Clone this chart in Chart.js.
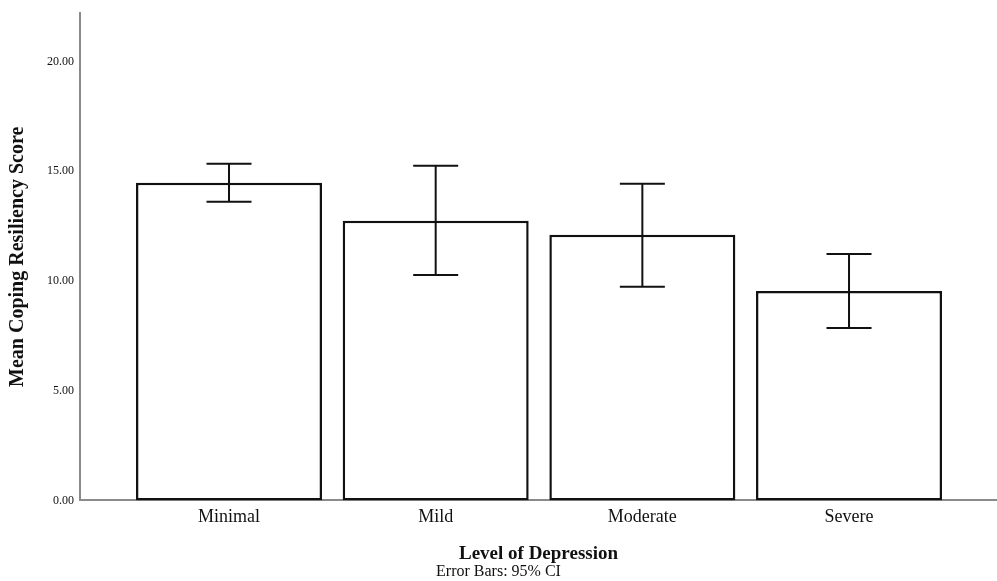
<!DOCTYPE html>
<html>
<head>
<meta charset="utf-8">
<script src="https://cdn.jsdelivr.net/npm/chart.js@4.4.1/dist/chart.umd.min.js"></script>
<style>
html,body{margin:0;padding:0;background:#fff;}
#wrap{width:997px;height:581px;position:relative;}
</style>
</head>
<body>
<div id="wrap"><canvas id="c" width="997" height="581"></canvas></div>
<script>
const categories = ["Minimal", "Mild", "Moderate", "Severe"];
const means = [14.47, 12.74, 12.10, 9.54];
const ciLower = [13.61, 10.27, 9.73, 7.85];
const ciUpper = [15.34, 15.25, 14.43, 11.23];
const yTicks = [0, 5, 10, 15, 20];

const errorBarPlugin = {
  id: 'errorBars',
  afterDatasetsDraw(chart) {
    const ctx = chart.ctx;
    const xs = chart.scales.x, ys = chart.scales.y;
    ctx.save();
    ctx.strokeStyle = '#111';
    ctx.lineWidth = 2;
    for (let i = 0; i < means.length; i++) {
      const x = xs.getPixelForValue(i);
      const yl = ys.getPixelForValue(ciLower[i]);
      const yu = ys.getPixelForValue(ciUpper[i]);
      const half = 22.5;
      ctx.beginPath();
      ctx.moveTo(x, yu); ctx.lineTo(x, yl);
      ctx.moveTo(x - half, yu); ctx.lineTo(x + half, yu);
      ctx.moveTo(x - half, yl); ctx.lineTo(x + half, yl);
      ctx.stroke();
    }
    ctx.restore();
  }
};

new Chart(document.getElementById('c'), {
  type: 'bar',
  data: {
    datasets: [{
      data: means.map((v, i) => ({x: i, y: v})),
      backgroundColor: '#ffffff',
      borderColor: '#111111',
      borderWidth: 2.5,
      borderSkipped: false,
      categoryPercentage: 1.0,
      barPercentage: 0.9
    }]
  },
  options: {
    responsive: false,
    animation: false,
    layout: {padding: {top: 12, right: 0, left: 0, bottom: 0}},
    plugins: {
      legend: {display: false},
      tooltip: {enabled: false},
      title: {
        display: true,
        position: 'bottom',
        text: 'Error Bars: 95% CI',
        color: '#111',
        font: {family: '"Liberation Serif", serif', size: 16, weight: 'normal', lineHeight: 1.0},
        padding: {top: 0, bottom: 1}
      }
    },
    scales: {
      x: {
        type: 'linear',
        offset: false,
        min: -0.721,
        max: 3.716,
        afterBuildTicks(scale) { scale.ticks = categories.map((c, i) => ({value: i})); },
        ticks: {
          callback: (v) => categories[v],
          color: '#111',
          font: {family: '"Liberation Serif", serif', size: 18},
          padding: 6,
          maxRotation: 0,
          autoSkip: false
        },
        grid: {display: false, drawTicks: false, offset: false},
        border: {display: true, color: '#8a8a8a', width: 2},
        title: {
          display: true,
          text: 'Level of Depression',
          color: '#111',
          font: {family: '"Liberation Serif", serif', size: 19, weight: 'bold', lineHeight: 1.0},
          padding: {top: 11, bottom: 0}
        }
      },
      y: {
        min: 0,
        max: 22.2,
        afterBuildTicks(scale) { scale.ticks = yTicks.map(v => ({value: v})); },
        afterFit(scale) { scale.width = 80; },
        ticks: {
          callback: (v) => Number(v).toFixed(2),
          color: '#111',
          font: {family: '"Liberation Serif", serif', size: 12},
          padding: 6
        },
        grid: {display: false, drawTicks: false},
        border: {display: true, color: '#8a8a8a', width: 2},
        title: {
          display: true,
          text: 'Mean Coping Resiliency Score',
          color: '#111',
          font: {family: '"Liberation Serif", serif', size: 20, weight: 'bold', lineHeight: 1.0},
          padding: {top: 8, bottom: 0}
        }
      }
    }
  },
  plugins: [errorBarPlugin]
});
</script>
</body>
</html>
